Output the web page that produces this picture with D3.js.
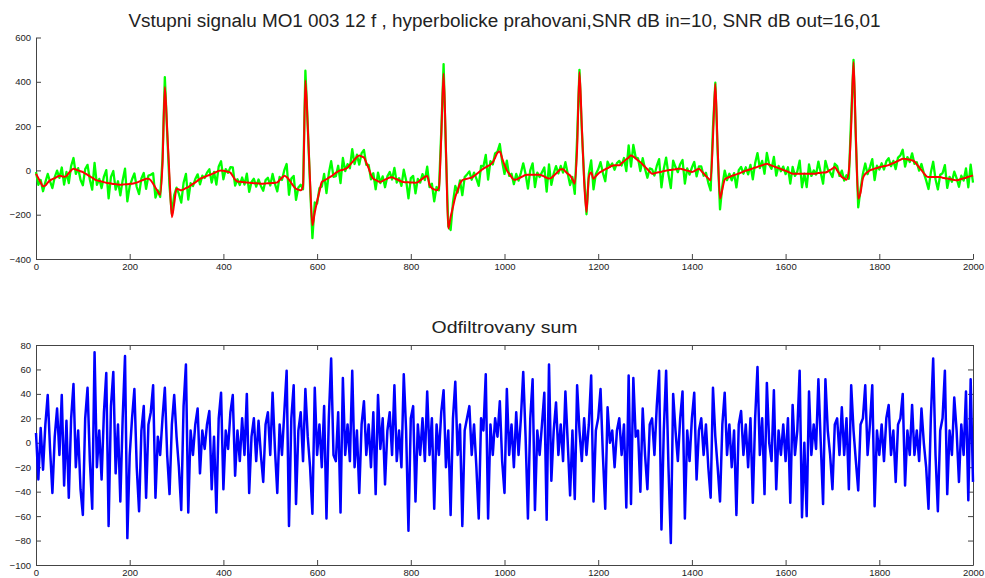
<!DOCTYPE html>
<html>
<head>
<meta charset="utf-8">
<script src="https://cdn.jsdelivr.net/npm/d3@7"></script>
<style>
	body { margin: 0; background: #fff; }
	svg text { font-family: Arial, "Liberation Sans", sans-serif; fill: #222; }
</style>
</head>
<body>
<div id="chart"></div>
<script>
// Two MATLAB style panels: noisy input + filtered ECG (top), removed noise (bottom).
// Both series are read every 5 samples, 0..2000.

let step = 5 ;

// filtered output (red), samples 0,5,10 ... 2000
let filtered = [
	-15,-35,-55,-72,-68,-55,-45,-39,-35,-29,-24,-26,-29,-25,-12,0,8,4,0,-4,
	-8,-14,-20,-27,-33,-40,-45,-48,-50,-53,-56,-58,-59,-61,-62,-64,-65,-64,-63,-62,
	-61,-60,-58,-55,-51,-46,-42,-38,-38,-45,-60,-78,-95,-110,30,376,180,-30,-211,-150,
	-83,-86,-90,-86,-80,-75,-68,-61,-54,-46,-38,-34,-29,-25,-21,-17,-12,-7,-2,0,
	-2,-4,-6,-10,-25,-42,-50,-51,-52,-54,-55,-56,-57,-58,-58,-59,-60,-60,-59,-58,
	-58,-57,-56,-54,-44,-33,-24,-30,-42,-57,-72,-83,-87,-90,-70,406,200,-50,-248,-190,
	-140,-95,-53,-46,-40,-33,-27,-19,-11,-4,0,3,7,13,25,37,49,61,67,63,
	58,35,10,-20,-38,-43,-49,-52,-47,-42,-37,-32,-31,-36,-40,-45,-50,-53,-54,-54,
	-55,-55,-56,-53,-45,-37,-29,-25,-65,-80,-86,-90,-80,150,437,100,-263,-210,-165,-120,
	-90,-60,-44,-40,-38,-35,-32,-25,-17,-8,0,8,14,20,27,37,57,80,85,55,
	25,0,-15,-30,-42,-41,-36,-31,-26,-21,-20,-20,-20,-20,-20,-20,-23,-28,-33,-37,
	-34,-24,-14,-4,5,5,-5,-15,-23,-40,-60,100,444,200,-50,-188,-30,-10,-38,-26,
	-15,-7,-1,5,10,16,21,23,23,23,32,41,50,58,67,62,54,45,37,27,
	16,5,-6,-15,-13,-10,-8,-6,-3,-1,1,2,4,5,7,8,5,2,-1,-4,
	-7,-3,3,8,-2,-14,-26,-36,-45,150,391,100,-128,-85,-42,-34,-30,-25,-22,-18,
	-14,-10,-5,-1,2,5,9,13,16,20,23,27,30,26,22,18,14,10,6,2,
	-2,-6,-11,-15,-15,-15,-15,-15,-15,-15,-15,-15,-15,-14,-12,-11,-10,-9,-5,2,
	8,15,0,-15,-30,-36,-42,0,200,489,150,-128,-100,-35,-16,-7,0,4,8,11,
	14,17,19,21,24,29,33,38,43,48,53,52,50,48,46,40,27,14,1,-12,
	-25,-30,-30,-30,-30,-30,-30,-33,-35,-37,-39,-41,-43,-45,-42,-39,-36,-33,-29,-26,
	-23
] ;

// removed noise (blue), same samples
let noise = [
	8,-30,12,-22,15,39,-5,-41,5,28,-10,39,-35,18,-45,20,48,-20,10,-38,
	-59,20,45,-15,-54,74,-20,10,-30,25,57,-68,30,58,-25,15,-48,20,71,-78,
	-10,20,44,-20,-56,10,30,-45,15,25,47,-45,5,-10,20,45,-10,-42,15,39,
	5,-20,-55,30,64,-57,10,-10,15,28,-25,10,-5,15,26,-38,5,-57,20,41,
	-38,10,-5,25,39,-27,10,-15,20,-10,40,-41,5,20,-15,18,-10,-32,15,25,
	-10,41,-5,-41,15,-10,25,59,-68,20,47,-50,10,25,-15,44,5,-20,-58,45,
	-10,15,-20,30,-62,20,69,-10,-15,25,-57,53,-10,15,-15,59,-20,10,-41,15,
	34,-10,15,-20,25,-42,39,-5,20,-34,10,25,-10,47,-15,10,-20,56,10,-72,
	20,30,-48,15,-10,20,-15,42,-10,20,-54,15,-10,25,43,-20,10,-59,20,50,
	-10,15,-68,10,20,30,-10,15,-20,-62,20,10,56,-62,15,-10,20,5,34,-15,
	-41,44,-10,15,-20,25,-10,20,58,5,-62,20,52,-55,10,-10,15,41,-63,64,
	-31,10,33,-10,15,-15,42,0,-43,10,-46,47,10,-15,20,-10,15,55,-48,10,
	20,44,-10,-54,29,0,10,-20,10,20,-10,15,-53,55,-50,53,5,10,-40,28,
	-10,-38,15,20,-10,30,59,-71,10,59,-20,-82,40,10,-15,20,42,-62,10,-15,
	20,41,-30,10,20,-10,15,-20,-45,45,5,-20,-48,15,41,-10,15,-20,10,-59,
	15,26,-10,15,-20,20,-49,20,62,-10,20,-42,49,0,-15,43,-38,10,-10,15,
	-15,20,-49,31,-10,10,59,-61,0,-60,42,-10,15,-5,52,0,-50,52,10,-10,
	-38,15,20,-10,29,-10,20,-38,47,10,-15,-39,15,20,47,-10,15,47,-52,10,
	-10,15,-15,20,31,-10,10,-32,15,20,40,-35,10,-10,31,-10,10,-15,28,0,
	-20,-54,20,69,-10,-56,10,20,59,-42,10,-10,37,10,-32,15,-10,42,-47,52,
	-32
] ;

let xTicks 		= [ 0, 200, 400, 600, 800, 1000, 1200, 1400, 1600, 1800, 2000 ] ;
let topYTicks 	= [ -400, -200, 0, 200, 400, 600 ] ;
let botYTicks 	= [ -100, -80, -60, -40, -20, 0, 20, 40, 60, 80 ] ;

let topTitle = "Vstupni signalu MO1 003 12 f , hyperbolicke prahovani,SNR dB in=10, SNR dB out=16,01" ;
let botTitle = "Odfiltrovany sum" ;

// input = filtered output + removed noise
let input = filtered.map( (v, i) => v + noise[i] ) ;

let svgwidth 	= 985 ;
let svgheight 	= 578 ;

let left 	= 36 ;
let right 	= 973 ;

let svg = d3.select("#chart").append("svg")
			.attr("width", svgwidth )
			.attr("height", svgheight )
		;

let x = d3.scaleLinear()
			.domain( [ 0, 2000 ] )
			.range( [ left, right ] )
		;

let yTop = d3.scaleLinear()
			.domain( [ -400, 600 ] )
			.range( [ 259, 37.5 ] )
		;

let yBot = d3.scaleLinear()
			.domain( [ -100, 80 ] )
			.range( [ 565, 345 ] )
		;

let fmt = d3.format("d") ;

styleAxis = (g)=>{
	g.selectAll("path, line").attr("stroke", "#444").attr("stroke-width", 1) ;
	g.selectAll("text").attr("font-size", "9.5px").attr("fill", "#222")
		.attr("font-family", "Arial, 'Liberation Sans', sans-serif") ;
}

// ---- top panel ----
svg.append("g")
	.attr("transform", "translate(0," + yTop.range()[0] + ")")
	.call( d3.axisBottom(x).tickValues(xTicks).tickFormat(fmt).tickSizeInner(-5).tickSizeOuter(0).tickPadding(4) )
	.call( styleAxis )
;

svg.append("g")
	.attr("transform", "translate(" + left + ",0)")
	.call( d3.axisLeft(yTop).tickValues(topYTicks).tickFormat(fmt).tickSizeInner(-5).tickSizeOuter(0).tickPadding(5) )
	.call( styleAxis )
;

let lineTop = d3.line()
				.x( (d, i) => x( i * step ) )
				.y( d => yTop(d) )
			;

svg.append("path")
	.datum( input )
	.attr("fill", "none")
	.attr("stroke", "#00ff00")
	.attr("stroke-width", 2.3)
	.attr("stroke-linejoin", "round")
	.attr("d", lineTop )
;

svg.append("path")
	.datum( filtered )
	.attr("fill", "none")
	.attr("stroke", "#ff0000")
	.attr("stroke-width", 2)
	.attr("stroke-linejoin", "round")
	.attr("d", lineTop.curve( d3.curveMonotoneX ) )
;

svg.append("text")
	.attr("x", (left + right) / 2 )
	.attr("y", 27 )
	.attr("text-anchor", "middle")
	.attr("font-size", "18px")
	.attr("textLength", 752 )
	.attr("lengthAdjust", "spacingAndGlyphs")
	.text( topTitle )
;

// ---- bottom panel ----
svg.append("g")
	.attr("transform", "translate(0," + yBot.range()[0] + ")")
	.call( d3.axisBottom(x).tickValues(xTicks).tickFormat(fmt).tickSizeInner(-5).tickSizeOuter(0).tickPadding(4) )
	.call( styleAxis )
;

svg.append("g")
	.attr("transform", "translate(0," + yBot.range()[1] + ")")
	.call( d3.axisTop(x).tickValues(xTicks).tickSizeInner(-5).tickSizeOuter(0).tickFormat("") )
	.call( styleAxis )
;

svg.append("g")
	.attr("transform", "translate(" + left + ",0)")
	.call( d3.axisLeft(yBot).tickValues(botYTicks).tickFormat(fmt).tickSizeInner(-5).tickSizeOuter(0).tickPadding(5) )
	.call( styleAxis )
;

svg.append("g")
	.attr("transform", "translate(" + right + ",0)")
	.call( d3.axisRight(yBot).tickValues(botYTicks).tickSizeInner(-5).tickSizeOuter(0).tickFormat("") )
	.call( styleAxis )
;

svg.append("path")
	.datum( noise )
	.attr("fill", "none")
	.attr("stroke", "#0000ff")
	.attr("stroke-width", 2.5)
	.attr("stroke-linejoin", "round")
	.attr("d", d3.line()
		.x( (d, i) => x( i * step ) )
		.y( d => yBot(d) )
	)
;

svg.append("text")
	.attr("x", (left + right) / 2 )
	.attr("y", 333 )
	.attr("text-anchor", "middle")
	.attr("font-size", "17px")
	.attr("textLength", 146 )
	.attr("lengthAdjust", "spacingAndGlyphs")
	.text( botTitle )
;
</script>
</body>
</html>
